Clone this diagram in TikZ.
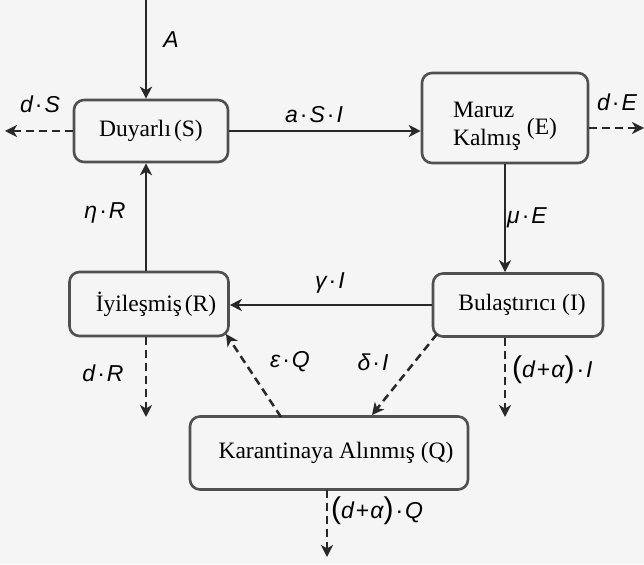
\documentclass[tikz,border=0pt]{standalone}
\usepackage{fontspec}
\setmainfont{Liberation Serif}
\newfontfamily\lab{Liberation Sans}
\usetikzlibrary{arrows.meta}
\definecolor{bg}{RGB}{245,245,245}
\definecolor{boxc}{RGB}{80,80,80}
\definecolor{arrc}{RGB}{40,40,40}
\tikzset{
  comp/.style={draw=boxc, line width=2.6pt, rounded corners=10pt, inner sep=0pt,
    font=\fontsize{23.5}{26}\selectfont, align=center},
  flow/.style={draw=arrc, line width=2.5pt, -{Stealth[length=12pt,width=12pt,inset=3.5pt]}},
  dflow/.style={flow, dash pattern=on 8pt off 5pt},
  lbl/.style={font=\lab\fontsize{23}{25}\selectfont\itshape, inner sep=0pt}
}
\newcommand{\md}{\kern2pt{\upshape·}\kern2pt}
\begin{document}
\begin{tikzpicture}[x=1pt,y=1pt]
\fill[bg] (0,0) rectangle (644,564);
\useasboundingbox (0,0) rectangle (644,564);

\node[comp, minimum width=154pt, minimum height=62pt] (S) at (151,433) {Duyarlı\kern3pt(S)};
\node[comp, minimum width=166pt, minimum height=90pt] (E) at (505,446)
  {\raisebox{-15pt}[0pt][0pt]{\begin{tabular}{@{}l@{}}Maruz\\[2pt]Kalmış\end{tabular}\kern6pt\raisebox{-2pt}{(E)}}};
\node[comp, minimum width=170pt, minimum height=63pt] (I) at (518,259) {\hspace{8pt}Bulaştırıcı (I)};
\node[comp, minimum width=159pt, minimum height=64pt] (R) at (149,260) {\hspace{14pt}İyileşmiş\kern3pt(R)};
\node[comp, minimum width=278pt, minimum height=73pt] (Q) at (329,111) {\hspace{14pt}Karantinaya Alınmış (Q)};

\coordinate (Atop) at (146,564);
\coordinate (dSend) at (5,433);
\coordinate (dEend) at (644,436);
\coordinate (dRend) at (146,147);
\coordinate (eqs) at (281,147);
\coordinate (eqe) at (226,230);
\coordinate (dis) at (437,230);
\coordinate (die) at (372,149);
\coordinate (dIs) at (505,226);
\coordinate (dIe) at (505,147);
\coordinate (dQs) at (327,74);
\coordinate (dQe) at (327,7);

\draw[flow] (Atop) -- (Atop |- S.north);
\draw[dflow] (S.west) -- (dSend);
\draw[flow] (S.east) -- (S.east -| E.west);
\draw[dflow] (E.east |- dEend) -- (dEend);
\draw[flow] (E.south) -- (E.south |- I.north);
\draw[flow] (I.west) -- (I.west -| R.east);
\draw[flow] (Atop |- R.north) -- (Atop |- S.south);
\draw[dflow] (Atop |- R.south) -- (dRend);
\draw[dflow] (eqs) -- (eqe);
\draw[dflow] (dis) -- (die);
\draw[dflow] (dIs) -- (dIe);
\draw[dflow] (dQs) -- (dQe);

\node[lbl] (lA) at (171,524) {A};
\node[lbl] (ldS) at (40,460) {d\md S};
\node[lbl] (laSI) at (314,449) {a\md S\md I};
\node[lbl] (ldE) at (617,462) {d\md E};
\node[lbl] (lmE) at (527,346) {μ\md E};
\node[lbl] (lgI) at (330,281) {γ\md I};
\node[lbl] (leR) at (105,351) {η\md R};
\node[lbl] (ldR) at (103,191) {d\md R};
\node[lbl] (leQ) at (290,202) {ε\md Q};
\node[lbl] (ldI) at (373,202) {δ\md I};
\node[lbl, anchor=west] (ldaI) at (512,194) {{\upshape\fontsize{30}{30}\selectfont(}d\kern2pt{\upshape+}\kern1pt α{\upshape\fontsize{30}{30}\selectfont)}\md I};
\node[lbl, anchor=west] (ldaQ) at (331,53) {{\upshape\fontsize{30}{30}\selectfont(}d\kern2pt{\upshape+}\kern1pt α{\upshape\fontsize{30}{30}\selectfont)}\md Q};
\end{tikzpicture}
\end{document}
